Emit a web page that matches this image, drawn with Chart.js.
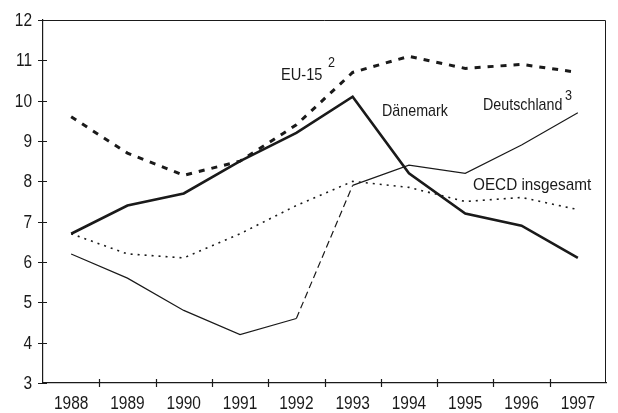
<!DOCTYPE html>
<html><head><meta charset="utf-8">
<script src="https://cdn.jsdelivr.net/npm/chart.js@4/dist/chart.umd.min.js"></script>
<style>html,body{margin:0;padding:0;background:#fff}#wrap{width:618px;height:413px}</style>
</head><body><div id="wrap"><canvas id="c" width="618" height="413"></canvas></div>
<script>
const years = ["1988","1989","1990","1991","1992","1993","1994","1995","1996","1997"];
const eu15 = [9.6, 8.7, 8.15, 8.5, 9.4, 10.7, 11.1, 10.8, 10.9, 10.7];
const daenemark = [6.7, 7.4, 7.7, 8.5, 9.2, 10.1, 8.2, 7.2, 6.9, 6.1];
const deutschland = [6.2, 5.6, 4.8, 4.2, 4.6, 7.9, 8.4, 8.2, 8.9, 9.7];
const oecd = [6.7, 6.2, 6.1, 6.7, 7.4, 8.0, 7.85, 7.5, 7.6, 7.3];
const yTicks = [3,4,5,6,7,8,9,10,11,12];

const FONT = '"Liberation Sans", Arial, Helvetica, sans-serif';
const INK = '#1a1a1a';

function condText(ctx, txt, x, y, align, sx) {
  ctx.save();
  ctx.translate(x, y);
  ctx.scale(sx, 1);
  ctx.textAlign = align || 'left';
  ctx.fillText(txt, 0, 0);
  ctx.restore();
}

const deco = {
  id: 'deco',
  afterDraw(chart) {
    const ctx = chart.ctx, a = chart.chartArea, x = chart.scales.x, y = chart.scales.y;
    ctx.save();
    ctx.strokeStyle = INK; ctx.lineWidth = 1;
    ctx.beginPath();
    ctx.moveTo(a.left, a.top + 0.5); ctx.lineTo(a.right - 0.5, a.top + 0.5); ctx.lineTo(a.right - 0.5, a.bottom);
    ctx.stroke();
    ctx.lineWidth = 1.2;
    ctx.beginPath();
    yTicks.forEach(v => { const p = Math.round(y.getPixelForValue(v)) + 0.5; ctx.moveTo(a.left - 5, p); ctx.lineTo(a.left + 4, p); });
    const w = x.getPixelForValue(1) - x.getPixelForValue(0);
    for (let i = 1; i < years.length; i++) {
      const p = Math.round(x.getPixelForValue(i) - w / 2) + 0.5;
      ctx.moveTo(p, a.bottom - 4); ctx.lineTo(p, a.bottom + 4);
    }
    ctx.stroke();
    ctx.fillStyle = INK; ctx.textBaseline = 'middle';
    ctx.font = '18px ' + FONT;
    yTicks.forEach(v => condText(ctx, String(v), a.left - 11, y.getPixelForValue(v) + 1, 'right', 0.86));
    years.forEach((lab, i) => condText(ctx, lab, x.getPixelForValue(i), a.bottom + 21, 'center', 0.86));
    ctx.font = '17px ' + FONT;
    condText(ctx, 'EU-15', 281, 75, 'left', 0.86);
    condText(ctx, 'Dänemark', 382, 111, 'left', 0.84);
    condText(ctx, 'Deutschland', 483, 105, 'left', 0.84);
    condText(ctx, 'OECD insgesamt', 473, 185, 'left', 0.9);
    ctx.font = '14px ' + FONT;
    condText(ctx, '2', 328, 63, 'left', 0.9);
    condText(ctx, '3', 565, 96, 'left', 0.9);
    ctx.restore();
  }
};

new Chart(document.getElementById('c'), {
  type: 'line',
  data: {
    labels: years,
    datasets: [
      { label: 'EU-15', data: eu15, borderColor: INK, borderWidth: 3, borderDash: [6, 7], borderCapStyle: 'butt', pointRadius: 0, tension: 0 },
      { label: 'Dänemark', data: daenemark, borderColor: INK, borderWidth: 2.6, pointRadius: 0, tension: 0 },
      { label: 'Deutschland', data: deutschland, borderColor: INK, borderWidth: 1.2, pointRadius: 0, tension: 0,
        segment: { borderDash: c => (c.p0DataIndex === 4 ? [7, 4] : undefined) } },
      { label: 'OECD insgesamt', data: oecd, borderColor: INK, borderWidth: 1.6, borderDash: [2, 5], pointRadius: 0, tension: 0 }
    ]
  },
  options: {
    responsive: false, animation: false, devicePixelRatio: 1,
    layout: { padding: { top: 20, right: 12, left: 0, bottom: 0 } },
    plugins: { legend: { display: false }, tooltip: { enabled: false } },
    scales: {
      x: {
        offset: true,
        grid: { display: false, drawTicks: false },
        border: { display: true, color: INK, width: 1.2 },
        ticks: { display: false },
        afterFit: s => { s.height = 30; }
      },
      y: {
        min: 3, max: 12,
        afterBuildTicks: s => { s.ticks = yTicks.map(v => ({ value: v })); },
        grid: { display: false, drawTicks: false },
        border: { display: true, color: INK, width: 1.2 },
        ticks: { display: false },
        afterFit: s => { s.width = 43; }
      }
    }
  },
  plugins: [deco]
});
</script></body></html>
